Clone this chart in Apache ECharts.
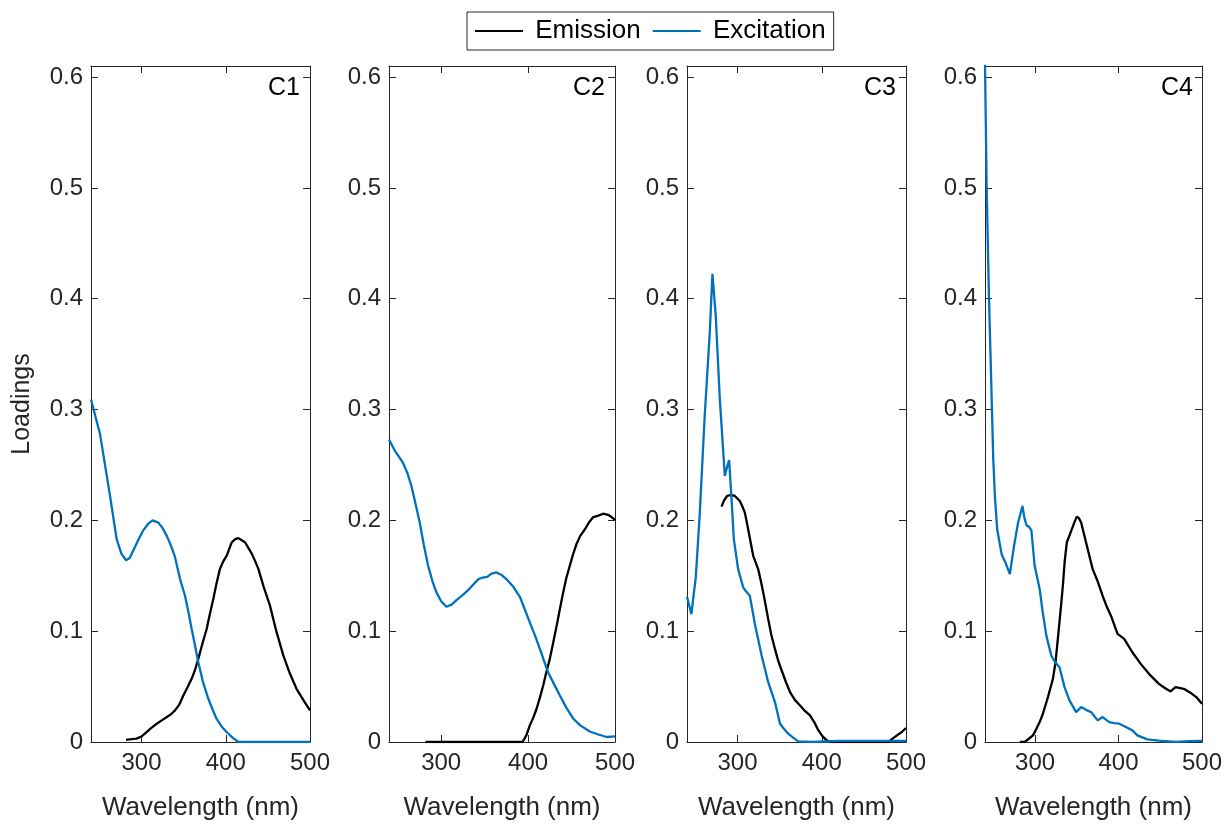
<!DOCTYPE html>
<html>
<head>
<meta charset="utf-8">
<script src="https://cdn.jsdelivr.net/npm/echarts@6/dist/echarts.min.js"></script>
<style>html,body{margin:0;padding:0;background:#fff}#c{width:1225px;height:826px}</style>
</head>
<body>
<div id="c"></div>
<script>
// ---------- data (wavelength nm, loading) ----------
const panelNames = ['C1', 'C2', 'C3', 'C4'];
const seriesNames = ['Emission', 'Excitation'];
const xTickValues = [300, 400, 500];
const yTickValues = [0, 0.1, 0.2, 0.3, 0.4, 0.5, 0.6];

const c1Excitation = [[240,0.309],[250.7,0.278],[262.6,0.222],[270.5,0.183],[276,0.170],[281.6,0.164],[286,0.166],[290.3,0.173],[296,0.182],[302,0.191],[308,0.197],[313,0.2],[320,0.198],[325,0.193],[330,0.186],[335,0.177],[339.7,0.167],[345.7,0.147],[351.6,0.132],[355.5,0.118],[359.5,0.102],[363.5,0.087],[367.4,0.072],[373,0.054],[379.3,0.039],[384,0.030],[389,0.021],[395,0.014],[401,0.009],[408,0.004],[415,0],[440,0],[470,0],[500,0]];
const c1Emission = [[281.6,0.002],[288,0.0025],[294,0.003],[300,0.005],[306,0.009],[312,0.013],[318,0.0165],[324,0.0195],[330,0.0225],[335,0.025],[339.7,0.0285],[345,0.034],[349.6,0.042],[355,0.050],[359.5,0.057],[363.5,0.065],[367.4,0.075],[372,0.088],[377.3,0.102],[381,0.115],[385.2,0.129],[389,0.143],[393,0.156],[397,0.163],[401,0.168],[404,0.174],[407,0.180],[411,0.183],[415,0.184],[419,0.182],[423,0.180],[427,0.175],[430.8,0.170],[435,0.163],[438.8,0.156],[445,0.140],[452.5,0.123],[460,0.100],[468.4,0.078],[476,0.062],[484,0.048],[492,0.038],[500,0.0285]];

const c2Excitation = [[240,0.273],[246.6,0.263],[251,0.258],[256,0.252],[261,0.243],[265.8,0.231],[270.5,0.215],[275.4,0.198],[280,0.178],[285,0.159],[290,0.145],[294.6,0.135],[300,0.127],[306,0.122],[312,0.124],[317.6,0.128],[324,0.132],[331,0.137],[338,0.143],[343,0.147],[346.4,0.148],[353,0.149],[358,0.152],[363.7,0.153],[369,0.151],[375,0.147],[383,0.140],[390.6,0.131],[396,0.120],[402,0.108],[408,0.096],[413.6,0.084],[418,0.074],[423,0.063],[430,0.052],[436.6,0.042],[444,0.031],[452,0.021],[460,0.015],[471,0.0095],[480,0.007],[490.4,0.0045],[500,0.005]];
const c2Emission = [[282,0],[300,0],[330,0],[360,0],[380,0],[393.7,0],[398,0.006],[402,0.015],[406,0.022],[409.8,0.030],[413.6,0.040],[417.4,0.051],[421,0.063],[425,0.075],[429,0.090],[432.9,0.105],[436.6,0.120],[440.4,0.135],[444,0.148],[448,0.159],[452,0.170],[455.9,0.179],[460,0.186],[465.4,0.192],[470,0.198],[475,0.203],[480,0.204],[486.5,0.206],[492,0.205],[496,0.203],[500,0.2005]];

const c3Excitation = [[240,0.131],[245.2,0.1155],[250.4,0.1485],[255,0.204],[261,0.294],[267,0.369],[270.2,0.4224],[274.2,0.384],[279,0.309],[284.9,0.240],[287.5,0.248],[290,0.2544],[292.9,0.219],[295.6,0.183],[300.7,0.156],[306.7,0.1395],[310,0.136],[314.6,0.132],[320.6,0.1065],[328.6,0.078],[336.4,0.054],[344.4,0.036],[350.4,0.0165],[355,0.012],[360.2,0.0075],[366,0.004],[372,0.0006],[390,0],[420,0.001],[450,0.001],[480,0.001],[500,0.001]];
const c3Emission = [[281,0.2124],[284,0.218],[287.6,0.222],[292,0.223],[296.8,0.222],[302.7,0.2175],[305.5,0.213],[308.7,0.207],[312.6,0.192],[318.6,0.168],[324.5,0.156],[327.5,0.146],[330.5,0.135],[336.4,0.111],[340,0.097],[344.4,0.084],[348,0.074],[352.4,0.0645],[358,0.053],[362.3,0.045],[368,0.038],[374.2,0.033],[380,0.028],[386,0.024],[391,0.018],[396,0.0105],[401,0.005],[406,0.0015],[410,0],[440,0],[460,0],[479.3,0],[484,0.003],[489.3,0.006],[495,0.009],[500,0.0126]];

const c4Excitation = [[240,0.612],[242,0.5],[244.8,0.4],[248,0.31],[249.9,0.255],[252,0.22],[254.6,0.192],[259.9,0.1695],[265,0.161],[269.8,0.1515],[275,0.178],[279.7,0.198],[284.9,0.213],[287,0.203],[289.7,0.1956],[293,0.194],[295.6,0.191],[299.5,0.159],[305.5,0.138],[309,0.118],[313.5,0.096],[319.4,0.078],[324,0.072],[329.3,0.0675],[335.3,0.0495],[341.2,0.0375],[349.2,0.027],[355.2,0.0315],[361,0.029],[367.1,0.027],[375,0.0195],[380.9,0.0225],[388.9,0.018],[395,0.017],[400.8,0.0165],[408.8,0.0135],[416.6,0.0105],[422.6,0.006],[434.5,0.0024],[448.4,0.0012],[468.3,0],[485,0.0008],[500,0.001]];
const c4Emission = [[281.7,0],[287.6,0],[293.6,0.0036],[297.5,0.006],[301.6,0.012],[305.5,0.018],[309.4,0.0255],[315.4,0.0405],[321.4,0.057],[324.5,0.072],[327.3,0.093],[330.5,0.118],[333.3,0.141],[335.5,0.163],[338,0.18],[343.3,0.1905],[347,0.198],[350,0.2034],[352.5,0.202],[355.2,0.198],[361.1,0.18],[369,0.156],[375,0.145],[380.9,0.132],[386,0.122],[390.9,0.114],[398.8,0.0975],[406.8,0.093],[416.6,0.081],[426.6,0.0705],[436.5,0.0615],[448.4,0.0525],[455,0.049],[462.4,0.0456],[468.3,0.0495],[478.2,0.048],[488,0.0435],[494,0.040],[500,0.0345]];

const emissionData = [c1Emission, c2Emission, c3Emission, c4Emission];
const excitationData = [c1Excitation, c2Excitation, c3Excitation, c4Excitation];

// ---------- layout ----------
const gridLefts = [91, 389, 687, 985];
const gridWidths = [219, 226, 219, 218];
const TOP = 66, HEIGHT = 677;
const AX = '#262626';
const FONT = 'Liberation Sans, Arial, Helvetica, sans-serif';
const colors = {Emission: '#000000', Excitation: '#0072BD'};

const grids = [], xAxes = [], yAxes = [], series = [], graphics = [];
panelNames.forEach((p, i) => {
  grids.push({left: gridLefts[i], top: TOP, width: gridWidths[i], height: HEIGHT, containLabel: false});
  const baseX = {
    type: 'value', gridIndex: i, min: 240, max: 500,
    axisLine: {show: true, onZero: false, lineStyle: {color: AX, width: 1}},
    axisTick: {show: true, inside: true, length: 7, lineStyle: {color: AX}, customValues: xTickValues},
    splitLine: {show: false}
  };
  xAxes.push(Object.assign({}, baseX, {
    position: 'bottom',
    axisLabel: {show: true, customValues: xTickValues, color: AX, fontSize: 24, fontFamily: FONT, margin: 9},
    name: 'Wavelength (nm)', nameLocation: 'middle', nameGap: 53,
    nameTextStyle: {color: AX, fontSize: 26, fontFamily: FONT}
  }));
  xAxes.push(Object.assign({}, baseX, {position: 'top', axisLabel: {show: false}}));
  const baseY = {
    type: 'value', gridIndex: i, min: 0, max: 0.61,
    axisLine: {show: true, onZero: false, lineStyle: {color: AX, width: 1}},
    axisTick: {show: true, inside: true, length: 7, lineStyle: {color: AX}, customValues: yTickValues},
    splitLine: {show: false}
  };
  const yMain = Object.assign({}, baseY, {
    position: 'left',
    axisLabel: {show: true, customValues: yTickValues, color: AX, fontSize: 24, fontFamily: FONT, margin: 8}
  });
  if (i === 0) {
    yMain.name = 'Loadings';
    yMain.nameLocation = 'middle';
    yMain.nameGap = 56;
    yMain.nameTextStyle = {color: AX, fontSize: 25, fontFamily: FONT};
  }
  yAxes.push(yMain);
  yAxes.push(Object.assign({}, baseY, {position: 'right', axisLabel: {show: false}}));

  series.push({
    name: 'Emission', type: 'line', xAxisIndex: 2 * i, yAxisIndex: 2 * i,
    data: emissionData[i], symbol: 'none', showSymbol: false, clip: true,
    lineStyle: {color: colors.Emission, width: 2.3}, itemStyle: {color: colors.Emission}
  });
  series.push({
    name: 'Excitation', type: 'line', xAxisIndex: 2 * i, yAxisIndex: 2 * i,
    data: excitationData[i], symbol: 'none', showSymbol: false, clip: true,
    lineStyle: {color: colors.Excitation, width: 2.3}, itemStyle: {color: colors.Excitation}
  });

  graphics.push({
    type: 'text', x: gridLefts[i] + gridWidths[i] - 10, y: TOP + 10,
    style: {text: p, fill: '#000', font: '25px ' + FONT, textAlign: 'right', textVerticalAlign: 'top'}
  });
});

const chart = echarts.init(document.getElementById('c'), null, {renderer: 'canvas'});
chart.setOption({
  backgroundColor: '#fff',
  animation: false,
  legend: {
    data: seriesNames, left: 467, top: 12, orient: 'horizontal',
    icon: 'rect', itemWidth: 48, itemHeight: 2, itemGap: 12,
    padding: [6, 8, 6, 8],
    borderColor: AX, borderWidth: 1,
    formatter: function (name) { return ' ' + name; },
    textStyle: {color: '#000', fontSize: 26, fontFamily: FONT}
  },
  grid: grids, xAxis: xAxes, yAxis: yAxes, series: series, graphic: graphics
});
</script>
</body>
</html>
